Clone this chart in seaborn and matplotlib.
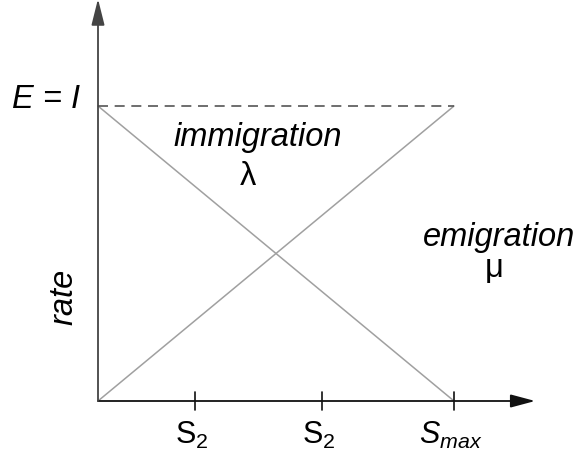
import matplotlib
matplotlib.use("Agg")
import matplotlib.pyplot as plt
import seaborn as sns
import pandas as pd

sns.set_style("white")
plt.rcParams['font.family'] = ['Liberation Sans', 'DejaVu Sans']
plt.rcParams['text.color'] = 'black'
plt.rcParams['mathtext.fontset'] = 'custom'
plt.rcParams['mathtext.rm'] = 'Liberation Sans'
plt.rcParams['mathtext.it'] = 'Liberation Sans:italic'

# Data
species = [0.0, 1.0]            # S from 0 to Smax
immigration = [1.0, 0.0]        # lambda falls from I to 0
emigration = [0.0, 1.0]         # mu rises from 0 to E
E_level = 1.0
tick_pos = [0.272, 0.629, 1.0]
tick_labels = [r'$\mathrm{S}_2$', r'$\mathrm{S}_2$', r'$\mathit{S}_{\mathit{max}}$']

df = pd.DataFrame({"S": species, "immigration": immigration, "emigration": emigration})

W, H = 577, 460
fig = plt.figure(figsize=(W / 100, H / 100), dpi=100)
ax = fig.add_axes([98 / W, 58 / H, 356 / W, 295 / H])
ax.set_xlim(0, 1)
ax.set_ylim(0, 1)
ax.axis('off')

sns.lineplot(data=df, x="S", y="immigration", ax=ax, color="#a0a0a0", lw=1.1)
sns.lineplot(data=df, x="S", y="emigration", ax=ax, color="#a0a0a0", lw=1.1)
for l in ax.lines:
    l.set_clip_on(False)

# dashed E = I line
ax.plot([0, species[-1]], [E_level, E_level], color="#555555", lw=1.2,
        ls=(0, (6, 4)), clip_on=False)

# axes with arrows
ax.annotate("", xy=(1.228, 0), xytext=(0, 0),
            arrowprops=dict(arrowstyle="-|>,head_length=1.5,head_width=0.4",
                            color="#111111", lw=1.3, shrinkA=0, shrinkB=0),
            annotation_clip=False)
ax.annotate("", xy=(0, 1.363), xytext=(0, 0),
            arrowprops=dict(arrowstyle="-|>,head_length=1.6,head_width=0.4",
                            color="#444444", lw=1.3, shrinkA=0, shrinkB=0),
            annotation_clip=False)

# ticks
for xp, lab in zip(tick_pos, tick_labels):
    ax.plot([xp, xp], [-0.03, 0.03], color="#111111", lw=1.2, clip_on=False)
    ax.text(xp - 0.01, -0.142, lab, ha='center', va='baseline', fontsize=22,
            color='black')

fs = 23.5
ax.text(-0.05, 0.997, "E = I", ha='right', va='baseline', fontsize=fs,
        style='italic', color='black')
ax.text(0.449, 0.898, "immigration", ha='center', va='center', fontsize=fs,
        style='italic', color='black')
ax.text(0.421, 0.766, "λ", ha='center', va='center', fontsize=fs, color='black')
ax.text(1.126, 0.559, "emigration", ha='center', va='center', fontsize=fs,
        style='italic', color='black')
ax.text(1.112, 0.451, "μ", ha='center', va='center', fontsize=fs, color='black')
ax.text(-0.0955, 0.356, "rate", ha='center', va='center', fontsize=fs,
        style='italic', rotation=90, color='black')

fig.savefig("out.png", dpi=100)
